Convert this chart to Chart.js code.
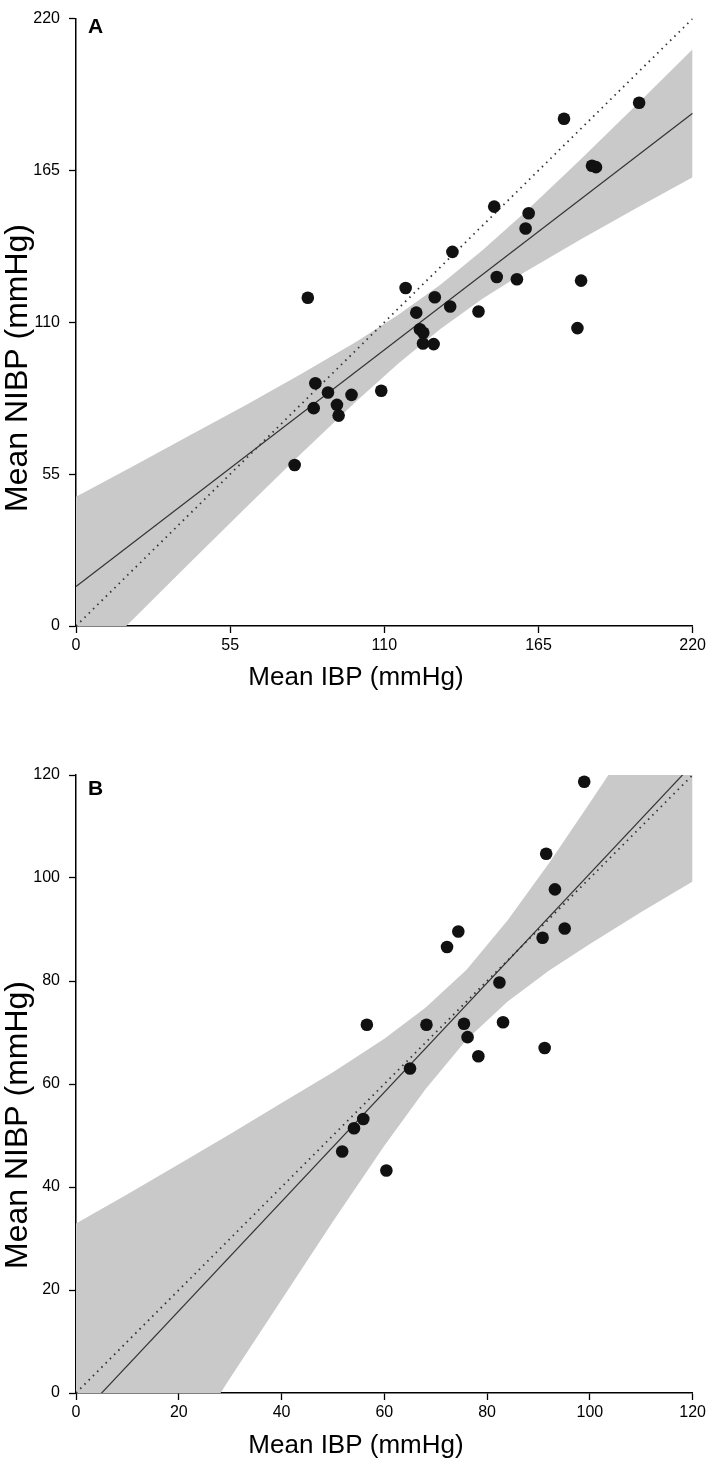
<!DOCTYPE html>
<html lang="en">
<head>
<meta charset="UTF-8" />
<title>Mean NIBP vs Mean IBP</title>
<style>
  body { margin: 0; background: #fff; }
  canvas { display: block; }
</style>
</head>
<body>
  <canvas id="chartA" width="709" height="700"></canvas>
  <canvas id="chartB" width="709" height="762"></canvas>

  <script src="https://cdn.jsdelivr.net/npm/chart.js"></script>
  <script>
    // ---- Panel A ----
    const ibpA  = [200.9, 174.1, 184.1, 185.5, 149.2, 161.5, 160.4, 134.3, 150.1, 157.3,
                   180.2, 117.6, 82.7, 128.0, 133.5, 121.4, 143.6, 178.9, 122.7, 123.9,
                   123.8, 127.6, 85.4, 89.9, 98.3, 108.9, 84.8, 93.1, 93.7, 78.0];
    const nibpA = [189.5, 183.7, 166.7, 166.2, 151.9, 149.5, 144.0, 135.5, 126.4, 125.6,
                   125.1, 122.4, 118.9, 119.1, 115.7, 113.5, 113.9, 107.9, 107.5, 106.2,
                   102.3, 102.1, 87.9, 84.6, 83.7, 85.2, 78.9, 80.1, 76.2, 58.3];
    const fitXA = [0, 220];
    const fitYA = [14.3, 185.7];
    const idA = [0, 220];
    const bandXA  = [0, 20, 40, 60, 80, 100, 115, 130, 145, 160, 180, 200, 220];
    const bandUpA = [46.8, 57.7, 68.7, 79.7, 91.1, 103.0, 112.7, 123.6, 136.1, 149.7, 169.0, 188.8, 208.9];
    const bandLoA = [-18.2, 2.1, 22.3, 42.3, 62.1, 81.4, 95.1, 107.6, 118.5, 128.1, 140.0, 151.4, 162.5];
    const ticksA = [0, 55, 110, 165, 220];

    // ---- Panel B ----
    const ibpB  = [98.9, 91.5, 93.2, 74.4, 72.2, 95.1, 90.8, 82.4, 56.6, 68.2,
                   75.5, 83.1, 76.2, 78.3, 91.2, 65.0, 55.9, 54.1, 51.8, 60.4];
    const nibpB = [118.7, 104.7, 97.8, 89.6, 86.6, 90.2, 88.4, 79.7, 71.5, 71.5,
                   71.7, 72.0, 69.1, 65.4, 67.0, 63.0, 53.2, 51.4, 46.9, 43.2];
    const fitXB = [0, 120];
    const fitYB = [-5.3, 122.1];
    const idB = [0, 120];
    const bandXB  = [0, 10, 20, 30, 40, 50, 60, 68, 76, 84, 92, 100, 110, 120];
    const bandUpB = [32.9, 38.6, 44.4, 50.3, 56.3, 62.3, 68.8, 74.8, 82.2, 91.8, 102.8, 114.6, 129.6, 144.9];
    const bandLoB = [-43.5, -28.0, -12.6, 2.9, 18.1, 33.3, 48.0, 59.0, 68.6, 76.0, 82.0, 87.2, 93.4, 99.3];
    const ticksB = [0, 20, 40, 60, 80, 100, 120];

    const FONT = '"Liberation Sans", Arial, sans-serif';

    function pairs(xs, ys) {
      return xs.map((x, i) => ({ x: x, y: ys[i] }));
    }

    // panel letter + axis titles (the figure has them off-centre)
    const panelText = {
      id: 'panelText',
      afterDraw(chart, args, o) {
        const ctx = chart.ctx, area = chart.chartArea;
        ctx.save();
        ctx.fillStyle = '#000';
        ctx.font = 'bold 21px ' + FONT;
        ctx.textAlign = 'left';
        ctx.textBaseline = 'alphabetic';
        ctx.fillText(o.letter, area.left + 12, area.top + o.letterDy);

        ctx.textAlign = 'center';
        ctx.textBaseline = 'middle';
        ctx.font = '26px ' + FONT;
        ctx.fillText('Mean IBP (mmHg)', 356, area.bottom + o.xTitleDy);

        ctx.font = '32px ' + FONT;
        ctx.translate(18, o.yTitleY);
        ctx.rotate(-Math.PI / 2);
        ctx.fillText('Mean NIBP (mmHg)', 0, 0);
        ctx.restore();
      }
    };

    function makeChart(id, d) {
      const axis = (max, ticks) => ({
        type: 'linear',
        min: 0,
        max: max,
        afterBuildTicks: s => { s.ticks = ticks.map(v => ({ value: v })); },
        grid: { drawOnChartArea: false, drawTicks: true, tickLength: 7, tickColor: '#000', tickWidth: 1.3 },
        border: { display: true, color: '#000', width: 1.5 },
        ticks: { color: '#000', font: { family: FONT, size: 16 } }
      });
      const x = axis(d.max, d.ticks);
      x.ticks.padding = 3;
      x.ticks.maxRotation = 0;
      x.afterFit = s => { s.height = d.xHeight; };
      const y = axis(d.max, d.ticks);
      y.ticks.padding = 9;
      y.afterFit = s => { s.width = 76; };

      return new Chart(document.getElementById(id), {
        type: 'scatter',
        data: {
          datasets: [
            { data: pairs(d.ibp, d.nibp), pointRadius: 6.3, pointHoverRadius: 6.3,
              pointBackgroundColor: '#111', pointBorderWidth: 0 },
            { data: pairs(d.fitX, d.fitY), showLine: true, pointRadius: 0,
              borderColor: '#333', borderWidth: 1.2 },
            { data: pairs(d.id, d.id), showLine: true, pointRadius: 0,
              borderColor: '#333', borderWidth: 1.8, borderDash: [1.5, 4.5] },
            { data: pairs(d.bandX, d.bandUp), showLine: true, pointRadius: 0,
              borderColor: 'rgba(0,0,0,0)', fill: '+1', backgroundColor: '#c9c9c9' },
            { data: pairs(d.bandX, d.bandLo), showLine: true, pointRadius: 0,
              borderColor: 'rgba(0,0,0,0)', fill: false }
          ]
        },
        options: {
          responsive: false,
          animation: false,
          layout: { padding: { top: d.top, right: 15, bottom: 0, left: 0 } },
          plugins: {
            legend: { display: false },
            tooltip: { enabled: false },
            panelText: { letter: d.letter, letterDy: d.letterDy, xTitleDy: d.xTitleDy, yTitleY: d.yTitleY }
          },
          scales: { x: x, y: y }
        },
        plugins: [panelText]
      });
    }

    makeChart('chartA', {
      ibp: ibpA, nibp: nibpA, fitX: fitXA, fitY: fitYA, id: idA,
      bandX: bandXA, bandUp: bandUpA, bandLo: bandLoA, ticks: ticksA, max: 220,
      top: 9, xHeight: 74, letter: 'A', letterDy: 14, xTitleDy: 52, yTitleY: 368
    });

    makeChart('chartB', {
      ibp: ibpB, nibp: nibpB, fitX: fitXB, fitY: fitYB, id: idB,
      bandX: bandXB, bandUp: bandUpB, bandLo: bandLoB, ticks: ticksB, max: 120,
      top: 75, xHeight: 69, letter: 'B', letterDy: 20, xTitleDy: 53, yTitleY: 425
    });
  </script>
</body>
</html>
